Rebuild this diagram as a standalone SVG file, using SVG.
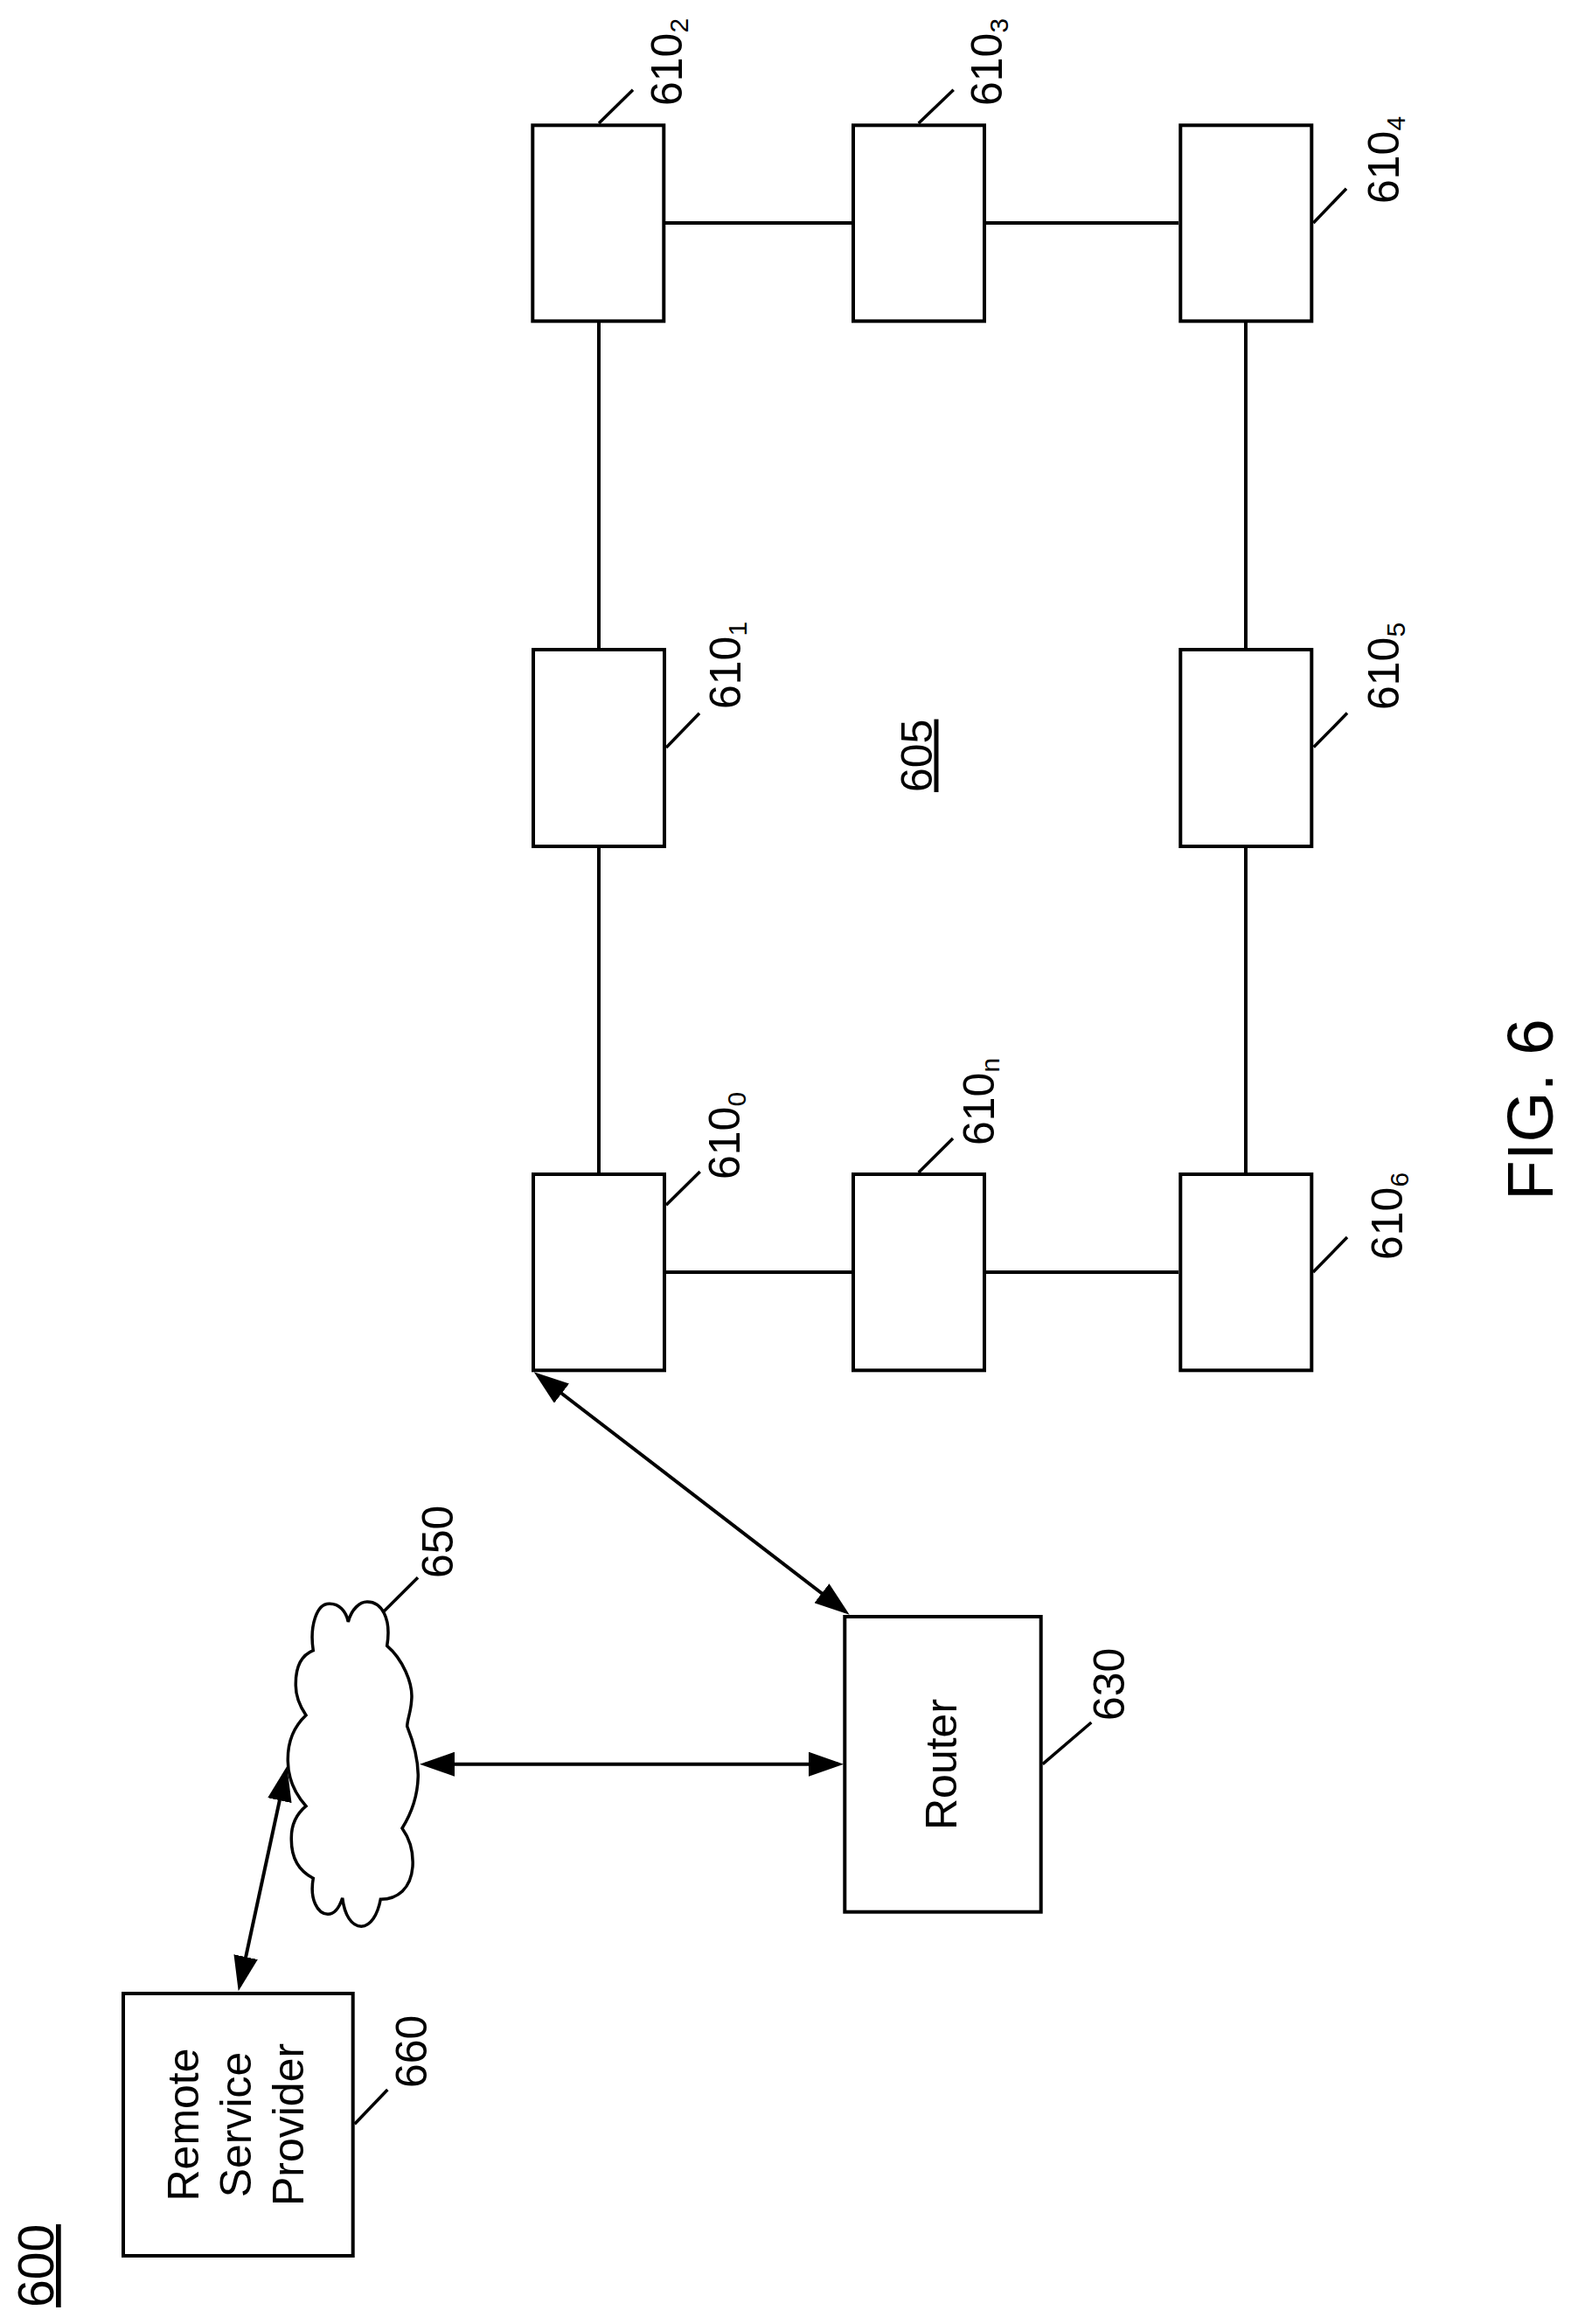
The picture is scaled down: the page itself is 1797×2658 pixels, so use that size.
<svg xmlns="http://www.w3.org/2000/svg" width="1797" height="2658" viewBox="0 0 1797 2658">
<style>
.box{fill:#fff;stroke:#000;stroke-width:4}
.cloud{fill:#fff;stroke:#000;stroke-width:3.5;stroke-linejoin:miter}
.lead{fill:none;stroke:#000;stroke-width:3.5}
.link{fill:none;stroke:#000;stroke-width:4}
.arrow{fill:none;stroke:#000;stroke-width:4;marker-start:url(#head);marker-end:url(#head)}
text{font-family:"Liberation Sans",Arial,sans-serif;font-size:50px;fill:#000}
.mid{text-anchor:middle}
.sub{font-size:30px}
.ul{text-decoration:underline}
</style>
<defs>
<marker id="head" markerUnits="userSpaceOnUse" viewBox="0 0 40 28" refX="34" refY="14" markerWidth="40" markerHeight="28" orient="auto-start-reverse">
<path d="M0 0L40 14L0 28Z" fill="#000"/>
</marker>
</defs>
<rect width="1797" height="2658" fill="#fff"/>
<g id="connectors">
<line class="link" x1="761" y1="255" x2="974" y2="255"/>
<line class="link" x1="1128" y1="255" x2="1348" y2="255"/>
<line class="link" x1="685" y1="369" x2="685" y2="741"/>
<line class="link" x1="685" y1="969" x2="685" y2="1341"/>
<line class="link" x1="1425" y1="369" x2="1425" y2="741"/>
<line class="link" x1="1425" y1="969" x2="1425" y2="1341"/>
<line class="link" x1="761" y1="1455" x2="974" y2="1455"/>
<line class="link" x1="1128" y1="1455" x2="1348" y2="1455"/>
<line class="arrow" x1="615.5" y1="1573" x2="966.9" y2="1843"/>
<line class="arrow" x1="486" y1="2017.7" x2="959" y2="2017.7"/>
<line class="arrow" x1="327" y1="2025.9" x2="274" y2="2271.4"/>
</g>
<g id="node-610-0">
<rect class="box" x="610" y="1343" width="150" height="224.3"/>
<line class="lead" x1="762" y1="1378.3" x2="800.7" y2="1340"/>
<text transform="translate(846 1349) rotate(-90)">610<tspan class="sub" dy="7">0</tspan></text>
</g>
<g id="node-610-1">
<rect class="box" x="610" y="743" width="150" height="225"/>
<line class="lead" x1="762" y1="855" x2="800" y2="815.7"/>
<text transform="translate(847 811) rotate(-90)">610<tspan class="sub" dy="7">1</tspan></text>
</g>
<g id="node-610-2">
<rect class="box" x="609.3" y="143.3" width="150" height="224"/>
<line class="lead" x1="685" y1="141" x2="724" y2="102.7"/>
<text transform="translate(780 121) rotate(-90)">610<tspan class="sub" dy="7">2</tspan></text>
</g>
<g id="node-610-3">
<rect class="box" x="976" y="143.3" width="150" height="224"/>
<line class="lead" x1="1050.7" y1="141" x2="1090.7" y2="102.7"/>
<text transform="translate(1146 121) rotate(-90)">610<tspan class="sub" dy="7">3</tspan></text>
</g>
<g id="node-610-4">
<rect class="box" x="1350.3" y="143.3" width="150" height="224"/>
<line class="lead" x1="1502.3" y1="255" x2="1540" y2="215.7"/>
<text transform="translate(1600 233) rotate(-90)">610<tspan class="sub" dy="7">4</tspan></text>
</g>
<g id="node-610-5">
<rect class="box" x="1350.3" y="743" width="150" height="225"/>
<line class="lead" x1="1502.7" y1="854.6" x2="1541" y2="815.6"/>
<text transform="translate(1600 812) rotate(-90)">610<tspan class="sub" dy="7">5</tspan></text>
</g>
<g id="node-610-6">
<rect class="box" x="1350.3" y="1343" width="150" height="224.3"/>
<line class="lead" x1="1502" y1="1455" x2="1541" y2="1415"/>
<text transform="translate(1604 1441) rotate(-90)">610<tspan class="sub" dy="7">6</tspan></text>
</g>
<g id="node-610-n">
<rect class="box" x="976" y="1343" width="150" height="224.3"/>
<line class="lead" x1="1050.7" y1="1341" x2="1090" y2="1302"/>
<text transform="translate(1137 1310) rotate(-90)">610<tspan class="sub" dy="6">n</tspan></text>
</g>
<g id="label-605">
<text class="ul" transform="translate(1065.5 906) rotate(-90)">605</text>
</g>
<g id="node-router">
<rect class="box" x="966.3" y="1849" width="224.4" height="337.7"/>
<text class="mid" transform="translate(1094 2018) rotate(-90)">Router</text>
<line class="lead" x1="1192.7" y1="2017.7" x2="1248.3" y2="1970"/>
<text transform="translate(1286 1968) rotate(-90)">630</text>
</g>
<g id="node-cloud">
<path class="cloud" d="M398.3 1855C402 1840 412 1832 420 1832C436 1832 448 1850 442.7 1882.3C460 1897 473 1925 470.7 1945C470 1958 466 1966 465.7 1974.3C472 1990 478 2010 478.3 2030C478 2055 470 2075 460 2091C470 2105 473 2120 472 2135C470 2160 455 2172 435.3 2172.3C432 2190 424 2203 413.3 2203.3C402 2203 394 2190 391.7 2170.7C388 2182 382 2189.3 375 2189.3C363 2189 354 2172 358.3 2148.3C342 2140 333 2125 333.3 2103C333 2085 340 2074 350 2065.7C338 2052 329 2035 329.3 2013C329 1990 338 1973 350 1961.7C342 1950 338 1940 338.3 1926.7C338 1905 345 1893 358.3 1887.7C354 1860 362 1834 376.7 1834.3C388 1834 396 1843 398.3 1855Z"/>
<line class="lead" x1="439.3" y1="1842.7" x2="478" y2="1804.3"/>
<text transform="translate(518 1805) rotate(-90)">650</text>
</g>
<g id="node-remote">
<rect class="box" x="141" y="2280" width="262.7" height="300"/>
<text class="mid" transform="translate(226.5 2430) rotate(-90)">Remote</text>
<text class="mid" transform="translate(286.5 2430) rotate(-90)">Service</text>
<text class="mid" transform="translate(347 2430) rotate(-90)">Provider</text>
<line class="lead" x1="405.7" y1="2429.3" x2="443.3" y2="2390"/>
<text transform="translate(488 2388) rotate(-90)">660</text>
</g>
<g id="label-600">
<text class="ul" style="font-size:57px" transform="translate(61 2639) rotate(-90)">600</text>
</g>
<g id="label-fig">
<text style="font-size:74.8px" transform="translate(1776 1373) rotate(-90)">FIG. 6</text>
</g>
</svg>
